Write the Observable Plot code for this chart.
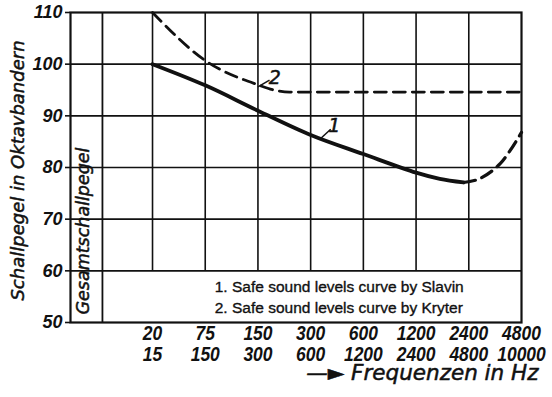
<!DOCTYPE html>
<html>
<head>
<meta charset="utf-8">
<script src="https://cdn.jsdelivr.net/npm/d3@7"></script>
<script src="https://cdn.jsdelivr.net/npm/@observablehq/plot@0.6"></script>
<style>
  html, body { margin: 0; padding: 0; background: #fff; }
  svg { overflow: visible; display: block; }
</style>
</head>
<body>
<div id="chart"></div>
<script>
// ---- data ----
const bandUpper = ["20", "75", "150", "300", "600", "1200", "2400", "4800"];
const bandLower = ["15", "150", "300", "600", "1200", "2400", "4800", "10000"];
const levelTicks = [50, 60, 70, 80, 90, 100, 110];

// curve 1 (Slavin) – solid part and dashed continuation
const slavinSolidX = [0, 1, 2, 3, 4, 5, 5.45, 5.9];
const slavinSolidY = [100, 95.9, 91, 86.3, 82.6, 79, 77.8, 77.1];
const slavinDashX = [5.9, 6.2, 6.6, 7];
const slavinDashY = [77.1, 77.8, 80.8, 86.8];

// curve 2 (Kryter)
const kryterX = [0, 1, 2, 2.3, 2.6, 7];
const kryterY = [110, 100.7, 96, 95, 94.6, 94.6];

// callout labels
const calloutLabels = ["1", "2"];
const calloutX = [3.45, 2.32];
const calloutY = [88.0, 97.4];
const leaderFromX = [3.19, 2.0];
const leaderFromY = [85.6, 95.6];
const leaderToX = [3.38, 2.22];
const leaderToY = [87.4, 96.9];

const legendLines = [
  "1. Safe sound levels curve by Slavin",
  "2. Safe sound levels curve by Kryter"
];
const legendY = [56.8, 52.8];

// scale extents (band index; the left column is the overall level)
const xLeft = -1.556, xGesamt = -0.95, xRight = 7;
const yBottom = 50, yTop = 110, yBoxTop = 60;

const pts = (xs, ys) => xs.map((x, i) => ({x, y: ys[i]}));
const bandIdx = bandUpper.map((_, i) => i);

const digitFont = "'Liberation Sans', Arial, sans-serif";
const techFont = "'DejaVu Sans', sans-serif";
const ink = "#111";

const chart = Plot.plot({
  width: 552,
  height: 397,
  marginTop: 12,
  marginBottom: 75,
  marginLeft: 70,
  marginRight: 31,
  x: {domain: [xLeft, xRight], axis: null},
  y: {domain: [yBottom, yTop], axis: null},
  style: {background: "#fff", color: ink},
  marks: [
    // horizontal grid lines
    Plot.ruleY(levelTicks.filter(d => d > yBottom && d < yTop), {x1: xLeft, x2: xRight, stroke: ink, strokeWidth: 1.6}),
    // vertical band lines (stop at the legend box)
    Plot.ruleX(bandIdx.filter(i => i < bandUpper.length - 1), {y1: yBoxTop, y2: yTop, stroke: ink, strokeWidth: 1.6}),
    // overall level column divider
    Plot.ruleX([xGesamt], {y1: yBottom, y2: yTop, stroke: ink, strokeWidth: 1.8}),
    // frame
    Plot.frame({stroke: ink, strokeWidth: 2.2}),
    // y axis
    Plot.axisY(levelTicks, {
      label: null,
      tickSize: 5, tickPadding: 3, stroke: ink, strokeWidth: 1.6,
      fontSize: 18, fontStyle: "italic", fontWeight: "bold", fontFamily: digitFont, fill: ink
    }),
    // x tick labels (two rows)
    Plot.text(bandIdx, {x: d => d, text: d => bandUpper[d], frameAnchor: "bottom", dy: 17,
      fontSize: 20.5, lineHeight: 0.9, fontStyle: "italic", fontWeight: "bold", fontFamily: digitFont, fill: ink}),
    Plot.text(bandIdx, {x: d => d, text: d => bandLower[d], frameAnchor: "bottom", dy: 38,
      fontSize: 20.5, lineHeight: 0.9, fontStyle: "italic", fontWeight: "bold", fontFamily: digitFont, fill: ink}),
    // curves
    Plot.line(pts(kryterX, kryterY), {x: "x", y: "y", curve: "monotone-x", stroke: ink, strokeWidth: 2.8, strokeDasharray: "12,7"}),
    Plot.line(pts(slavinSolidX, slavinSolidY), {x: "x", y: "y", curve: "catmull-rom", stroke: ink, strokeWidth: 3.8}),
    Plot.line(pts(slavinDashX, slavinDashY), {x: "x", y: "y", curve: "catmull-rom", stroke: ink, strokeWidth: 3.2, strokeDasharray: "12,7"}),
    // callouts
    Plot.link(calloutLabels.map((_, i) => i), {
      x1: i => leaderFromX[i], y1: i => leaderFromY[i], x2: i => leaderToX[i], y2: i => leaderToY[i],
      stroke: ink, strokeWidth: 1.5
    }),
    Plot.text(calloutLabels.map((_, i) => i), {x: i => calloutX[i], y: i => calloutY[i], text: i => calloutLabels[i],
      fontSize: 19, fontStyle: "italic", fontFamily: techFont, fill: ink, stroke: ink, strokeWidth: 0.5}),
    // legend box text
    Plot.text(legendLines.map((_, i) => i), {x: 1.18, y: i => legendY[i], text: i => legendLines[i], textAnchor: "start",
      fontSize: 15.5, fontFamily: "'Liberation Sans', Arial, sans-serif", fill: ink, stroke: ink, strokeWidth: 0.35}),
    // overall level column label
    Plot.text(["Gesamtschallpegel"], {x: (xLeft + xGesamt) / 2, frameAnchor: "bottom", dx: 3, dy: -8, rotate: -90, textAnchor: "start",
      fontSize: 17.5, fontStyle: "italic", fontFamily: techFont, fill: ink, stroke: ink, strokeWidth: 0.5}),
    // y title
    Plot.text(["Schallpegel in Oktavbandern"], {frameAnchor: "left", dx: -52, dy: 3, rotate: -90, textAnchor: "middle",
      fontSize: 18, fontStyle: "italic", fontFamily: techFont, fill: ink, stroke: ink, strokeWidth: 0.5}),
    // x title
    Plot.text(["—► Frequenzen in Hz"], {frameAnchor: "bottom-right", dx: 17, dy: 57, textAnchor: "end",
      fontSize: 21.5, fontStyle: "italic", fontFamily: techFont, fill: ink, stroke: ink, strokeWidth: 0.5})
  ]
});
document.getElementById("chart").append(chart);

// narrow the technical digits of the x labels (condensed lettering of the original)
const allLabels = new Set([...bandUpper, ...bandLower]);
chart.querySelectorAll("text").forEach(t => {
  if (!allLabels.has(t.textContent)) return;
  const w = t.getComputedTextLength();
  if (w > 0) {
    t.setAttribute("textLength", (w * 0.85).toFixed(1));
    t.setAttribute("lengthAdjust", "spacingAndGlyphs");
  }
});
</script>
</body>
</html>
